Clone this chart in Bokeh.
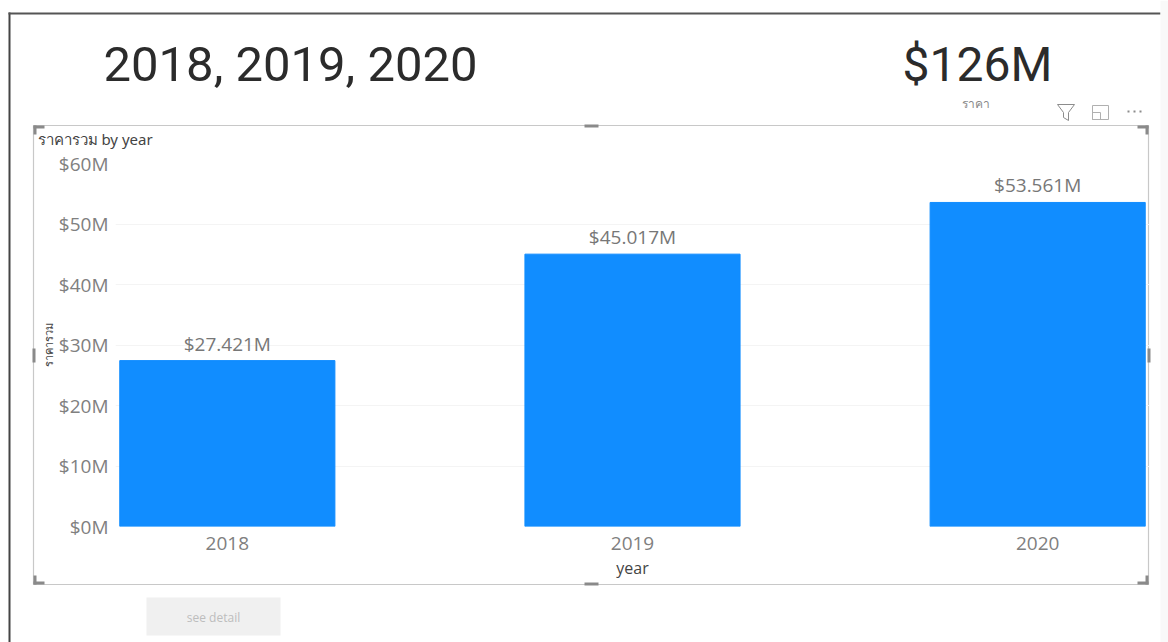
from bokeh.plotting import figure
from bokeh.layouts import column
from bokeh.models import Range1d, FixedTicker, PrintfTickFormatter, ColumnDataSource
from bokeh.core.properties import value
from bokeh.embed import file_html
from bokeh.resources import INLINE

years = [2018, 2019, 2020]
totals_m = [27.421, 45.017, 53.561]
bar_labels = ["$27.421M", "$45.017M", "$53.561M"]
y_ticks = [0, 10, 20, 30, 40, 50, 60]
card_years = "2018, 2019, 2020"
card_total = "$126M"
card_caption = "ราคา"
chart_title = "ราคารวม by year"
y_title = "ราคารวม"
x_title = "year"
button_text = "see detail"

W, H = 1168, 642
BLUE = "#118DFF"
FL, FR, FT, FB = 115, 1149, 163, 526   # frame edges in window pixels

# ---- back layer: report page furniture, in page pixels ----
d = figure(width=W, height=H, output_backend="svg", toolbar_location=None,
           x_range=Range1d(0, W), y_range=Range1d(H, 0),
           x_axis_location=None, y_axis_location=None,
           min_border=0, background_fill_color="white", border_fill_color="white")
d.outline_line_color = None
d.grid.visible = False


def rect(x0, y0, x1, y1, fill=None, line=None, w=1.0):
    d.quad(left=[x0], right=[x1], top=[y0], bottom=[y1],
           fill_color=fill, fill_alpha=1 if fill else 0,
           line_color=line, line_alpha=1 if line else 0, line_width=w)


def text(x, y, s, size, color, font="Open Sans", align="left"):
    d.text(x=[x], y=[y], text=[s], text_font=value(font), text_font_size=f"{size}px",
           text_color=color, text_align=align, text_baseline="middle")


rect(8, 12, 10, H, fill="#444444")
rect(8, 12, 1160, 14, fill="#555555")
rect(1160, 0, W, H, fill="#f9f9f9")
rect(33, 125, 1148, 584, line="#c8c8c8", w=1.2)
for (x0, y0, x1, y1) in [(33, 125, 44, 128), (33, 125, 36, 134),
                         (1137, 125, 1148, 128), (1145, 125, 1148, 134),
                         (33, 581, 44, 584), (33, 575, 36, 584),
                         (1137, 581, 1148, 584), (1145, 575, 1148, 584),
                         (584, 124, 598, 127), (584, 582, 598, 585),
                         (32, 348, 35, 362), (1147, 348, 1150, 362)]:
    rect(x0, y0, x1, y1, fill="#8a8a8a")

text(103, 64, card_years, 49, "#2b2b2b", font="Roboto")
text(902, 64, card_total, 48, "#2b2b2b", font="Roboto")
text(975, 103, card_caption, 12, "#8a8a8a", font="Noto Sans", align="center")
text(37, 138, chart_title, 15, "#444444", font="Noto Sans")

d.patch(x=[1057, 1074, 1068, 1068, 1063, 1063], y=[104, 104, 112, 120, 117, 112],
        fill_alpha=0, line_color="#8c8c8c", line_width=1)
rect(1092, 105, 1108, 119, line="#b0b0b0")
rect(1092, 112, 1100, 119, line="#b0b0b0")
for x in (1127, 1133, 1139):
    rect(x, 110, x + 2, 112, fill="#8c8c8c")

rect(146, 597, 280, 635, fill="#f0f0f0")
text(213, 617, button_text, 12, "#bdbdbd", align="center")

# ---- front layer: the chart itself ----
p = figure(width=W, height=H, output_backend="svg", toolbar_location=None,
           x_range=Range1d(2017.724, 2020.276), y_range=Range1d(0, 60),
           min_border_left=FL, min_border_right=W - FR,
           min_border_top=FT, min_border_bottom=H - FB,
           background_fill_alpha=0, border_fill_alpha=0)
p.outline_line_color = None

p.xaxis.ticker = FixedTicker(ticks=years)
p.xaxis.axis_label = x_title
p.xaxis.axis_label_text_font = "Open Sans"
p.xaxis.axis_label_text_font_size = "16px"
p.xaxis.axis_label_text_font_style = "normal"
p.xaxis.axis_label_text_color = "#444444"
p.xaxis.axis_label_standoff = 4
p.xaxis.major_label_standoff = 4
p.yaxis.ticker = FixedTicker(ticks=y_ticks)
p.yaxis.formatter = PrintfTickFormatter(format="$%dM")
p.yaxis.axis_label = y_title
p.yaxis.axis_label_text_font = "Noto Sans"
p.yaxis.axis_label_text_font_size = "11px"
p.yaxis.axis_label_text_font_style = "normal"
p.yaxis.axis_label_text_color = "#444444"
p.yaxis.axis_label_standoff = 0
p.yaxis.major_label_standoff = 1
for ax in (p.xaxis[0], p.yaxis[0]):
    ax.axis_line_color = None
    ax.major_tick_line_color = None
    ax.minor_tick_line_color = None
    ax.major_label_text_font = "Open Sans"
    ax.major_label_text_font_size = "19px"
    ax.major_label_text_color = "#808080"
p.xgrid.grid_line_color = None
p.ygrid.grid_line_color = "#f4f4f4"

src = ColumnDataSource(dict(x=years, top=totals_m, label=bar_labels))
p.vbar(x="x", top="top", bottom=0, width=0.531, color=BLUE, source=src)
p.text(x="x", y="top", text="label", source=src, text_align="center", text_baseline="bottom",
       y_offset=-4, text_font=value("Open Sans"), text_font_size="19px", text_color="#777777")

page = column(column(d, margin=0), column(p, margin=(-H, 0, 0, 0)), margin=0, spacing=0)
open("out.html", "w").write(file_html(page, INLINE))
